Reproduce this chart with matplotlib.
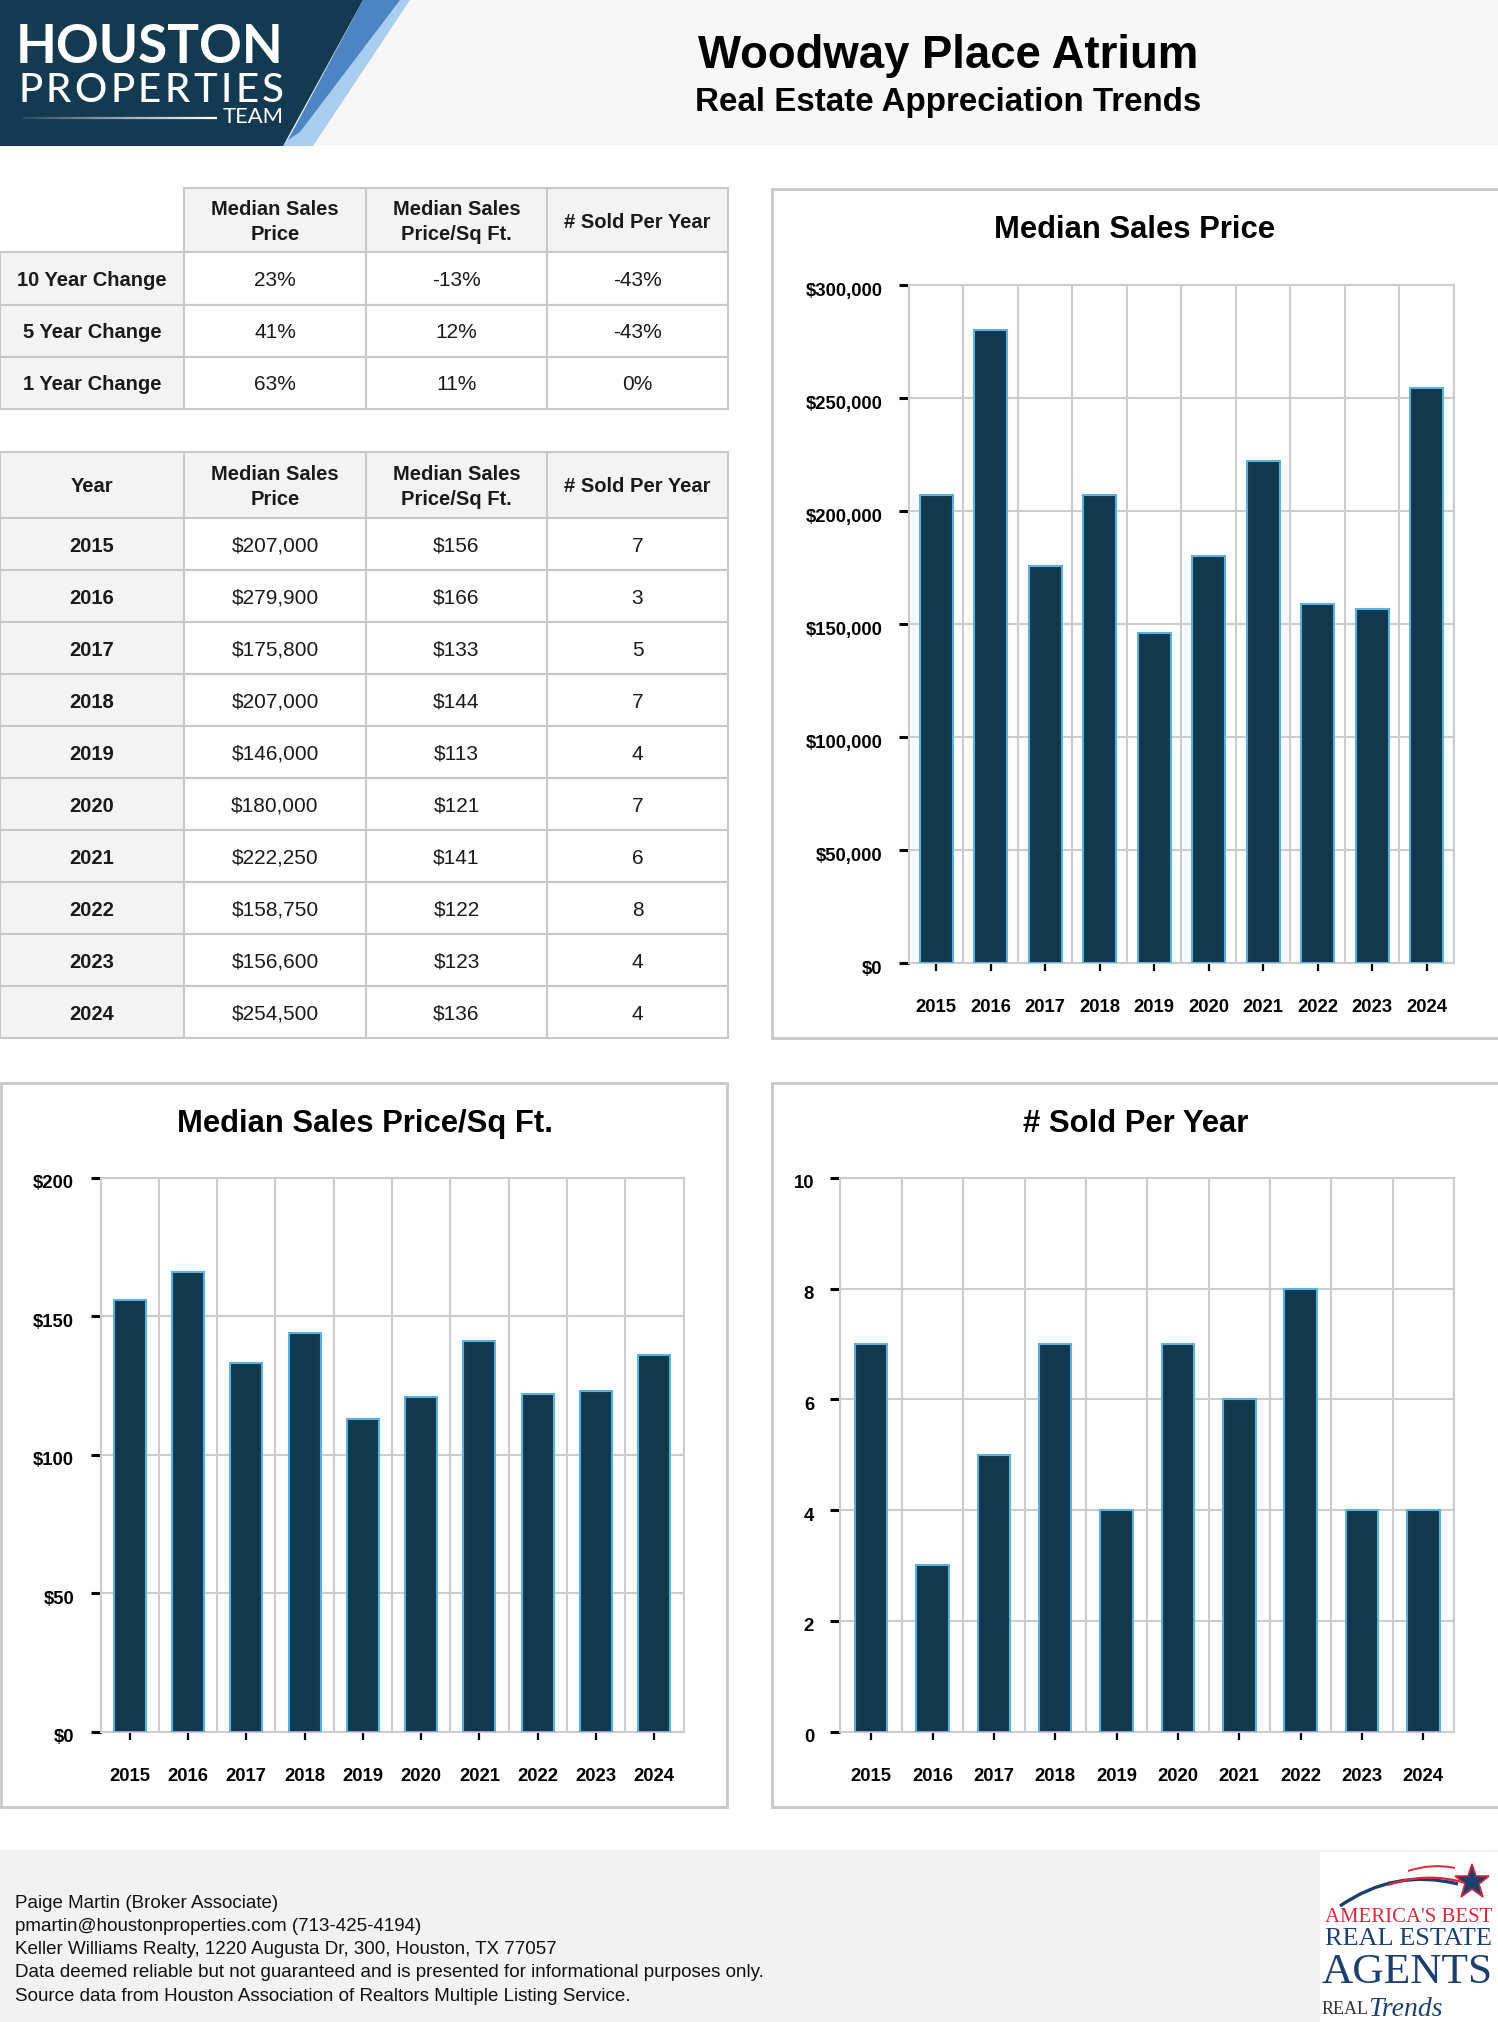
import matplotlib
matplotlib.use('Agg')
import matplotlib.pyplot as plt
from matplotlib.patches import Rectangle, Polygon, PathPatch
from matplotlib.path import Path
from matplotlib.collections import LineCollection
from matplotlib.transforms import ScaledTranslation
import numpy as np

plt.rcParams['font.family'] = ['Liberation Sans', 'DejaVu Sans']

# ---------------- data ----------------
years = [2015, 2016, 2017, 2018, 2019, 2020, 2021, 2022, 2023, 2024]
median_price = [207000, 279900, 175800, 207000, 146000, 180000, 222250, 158750, 156600, 254500]
price_per_sqft = [156, 166, 133, 144, 113, 121, 141, 122, 123, 136]
sold_per_year = [7, 3, 5, 7, 4, 7, 6, 8, 4, 4]

change_labels = ['10 Year Change', '5 Year Change', '1 Year Change']
change_price = ['23%', '41%', '63%']
change_sqft = ['-13%', '12%', '11%']
change_sold = ['-43%', '-43%', '0%']

col_headers = ['Median Sales\nPrice', 'Median Sales\nPrice/Sq Ft.', '# Sold Per Year']

price_ticks = [0, 50000, 100000, 150000, 200000, 250000, 300000]
sqft_ticks = [0, 50, 100, 150, 200]
sold_ticks = [0, 2, 4, 6, 8, 10]

title = 'Woodway Place Atrium'
subtitle = 'Real Estate Appreciation Trends'
footer_lines = [
    'Paige Martin (Broker Associate)',
    'pmartin@houstonproperties.com (713-425-4194)',
    'Keller Williams Realty, 1220 Augusta Dr, 300, Houston, TX 77057',
    'Data deemed reliable but not guaranteed and is presented for informational purposes only.',
    'Source data from Houston Association of Realtors Multiple Listing Service.',
]

# ---------------- style ----------------
W, H, DPI = 1498, 2022, 100
BAR = '#12384e'
EDGE = '#5bb1dd'
GRID = '#cccccc'
BORDER = '#c8c8c8'
HDR_FILL = '#f3f3f3'
TXT = '#1a1a1a'
NAVY = '#143a52'

fig = plt.figure(figsize=(W / DPI, H / DPI), dpi=DPI)
fig.patch.set_facecolor('white')
page = fig.add_axes([0, 0, 1, 1])
page.set_xlim(0, W)
page.set_ylim(H, 0)
page.axis('off')
renderer = fig.canvas.get_renderer()


def fit_text(x, y, s, target_w, size0=20, **kw):
    t = page.text(x, y, s, fontsize=size0, **kw)
    w = t.get_window_extent(renderer).width
    t.set_fontsize(size0 * target_w / w)
    return t


def spaced_text(x0, x1, y, s, size, **kw):
    ts = [page.text(0, y, ch, fontsize=size, ha='left', va='baseline', **kw) for ch in s]
    ws = [t.get_window_extent(renderer).width for t in ts]
    gap = (x1 - x0 - sum(ws)) / (len(s) - 1)
    x = x0
    for t, w in zip(ts, ws):
        t.set_x(x)
        x += w + gap


# ---------------- header ----------------
page.add_patch(Rectangle((0, 0), W, 146, facecolor='#f7f7f7', edgecolor='none'))
page.add_patch(Polygon([(378, 0), (410, 0), (313, 146), (283, 146)], closed=True,
                       facecolor='#a9cdef', edgecolor='none'))
page.add_patch(Polygon([(363, 0), (400, 0), (300, 132), (288, 140)], closed=True,
                       facecolor='#4d84c4', edgecolor='none'))
page.add_patch(Polygon([(0, 0), (363, 0), (283, 146), (0, 146)], closed=True,
                       facecolor=NAVY, edgecolor='none'))
fit_text(16, 63, 'HOUSTON', 268, size0=40, ha='left', va='baseline', color='white',
         family=['Lato', 'DejaVu Sans'], fontweight='bold')
spaced_text(18, 284, 102, 'PROPERTIES', 29, color='white', family=['Lato', 'DejaVu Sans'],
            fontweight='medium')
fit_text(284, 123, 'TEAM', 61, size0=15, ha='right', va='baseline', color='white',
         family=['Lato', 'DejaVu Sans'])
xs_line = np.linspace(23, 217, 60)
segs = [[(xs_line[i], 118), (xs_line[i + 1], 118)] for i in range(len(xs_line) - 1)]
alphas = np.linspace(0.1, 1.0, len(segs))
page.add_collection(LineCollection(segs, colors=[(1, 1, 1, a) for a in alphas], linewidths=1.6))

page.text(948, 56, title, ha='center', va='center', fontsize=32.8, fontweight='bold', color='black')
page.text(948, 103, subtitle, ha='center', va='center', fontsize=23.9, fontweight='bold', color='black')

# ---------------- tables ----------------
COLS = [0, 184, 366, 547, 728]


def cell(x0, y0, x1, y1, fc, text=None, bold=False, size=15):
    page.add_patch(Rectangle((x0, y0), x1 - x0, y1 - y0, facecolor=fc,
                             edgecolor=BORDER, linewidth=1.5))
    if text is not None:
        page.text((x0 + x1) / 2, (y0 + y1) / 2 + 2, text, ha='center', va='center',
                  fontsize=size, fontweight='bold' if bold else 'normal', color=TXT,
                  linespacing=1.45)


# table 1
t1_rows = [188, 252, 305, 357, 409]
for j, hdr in enumerate(col_headers):
    cell(COLS[j + 1], t1_rows[0], COLS[j + 2], t1_rows[1], HDR_FILL, hdr, bold=True, size=14.5)
for i, lab in enumerate(change_labels):
    y0, y1 = t1_rows[i + 1], t1_rows[i + 2]
    cell(COLS[0], y0, COLS[1], y1, HDR_FILL, lab, bold=True, size=14.5)
    for j, vals in enumerate([change_price, change_sqft, change_sold]):
        cell(COLS[j + 1], y0, COLS[j + 2], y1, 'white', vals[i], size=15)

# table 2
t2_top, t2_hdr, t2_bot = 452, 518, 1038
rh = (t2_bot - t2_hdr) / len(years)
cell(COLS[0], t2_top, COLS[1], t2_hdr, HDR_FILL, 'Year', bold=True, size=14.5)
for j, hdr in enumerate(col_headers):
    cell(COLS[j + 1], t2_top, COLS[j + 2], t2_hdr, HDR_FILL, hdr, bold=True, size=14.5)
for i, yr in enumerate(years):
    y0 = t2_hdr + i * rh
    y1 = y0 + rh
    cell(COLS[0], y0, COLS[1], y1, HDR_FILL, str(yr), bold=True, size=14.5)
    cell(COLS[1], y0, COLS[2], y1, 'white', f'${median_price[i]:,}', size=15)
    cell(COLS[2], y0, COLS[3], y1, 'white', f'${price_per_sqft[i]}', size=15)
    cell(COLS[3], y0, COLS[4], y1, 'white', f'{sold_per_year[i]}', size=15)

# ---------------- chart panels ----------------
page.add_patch(Rectangle((772, 189), 800, 849, facecolor='white', edgecolor=BORDER, linewidth=2))
page.add_patch(Rectangle((1, 1083), 726, 724, facecolor='white', edgecolor=BORDER, linewidth=2))
page.add_patch(Rectangle((772, 1083), 800, 724, facecolor='white', edgecolor=BORDER, linewidth=2))

page.text(1135, 230, 'Median Sales Price', ha='center', va='center', fontsize=22.3,
          fontweight='bold', color='black')
page.text(365, 1124, 'Median Sales Price/Sq Ft.', ha='center', va='center', fontsize=22.3,
          fontweight='bold', color='black')
page.text(1136, 1124, '# Sold Per Year', ha='center', va='center', fontsize=22.3,
          fontweight='bold', color='black')


def chart(rect, values, ticks, fmt, width):
    x0, y0, x1, y1 = rect
    ax = fig.add_axes([x0 / W, 1 - y1 / H, (x1 - x0) / W, (y1 - y0) / H])
    xs = np.arange(len(years))
    ax.bar(xs, values, width=width, color=BAR, edgecolor=EDGE, linewidth=1.5, zorder=3)
    ax.set_xlim(-0.5, len(years) - 0.5)
    ax.set_ylim(ticks[0], ticks[-1])
    ax.set_yticks(ticks)
    ax.set_yticklabels([fmt(t) for t in ticks])
    ax.set_xticks(xs)
    ax.set_xticklabels([str(y) for y in years])
    ax.set_xticks(np.arange(-0.5, len(years)), minor=True)
    ax.grid(True, which='minor', axis='x', color=GRID, linewidth=1.5)
    ax.grid(True, which='major', axis='y', color=GRID, linewidth=1.5)
    ax.grid(False, which='major', axis='x')
    ax.tick_params(axis='x', which='minor', length=0)
    ax.tick_params(axis='x', which='major', length=6, width=1.6, color='black', pad=20,
                   labelsize=13.3, labelcolor='black')
    ax.tick_params(axis='y', length=7.5, width=2.2, color='black', pad=11.5,
                   labelsize=13.3, labelcolor='black')
    off = ScaledTranslation(0, -4 / DPI, fig.dpi_scale_trans)
    for lab in ax.get_yticklabels():
        lab.set_fontweight('bold')
        lab.set_transform(lab.get_transform() + off)
    for lab in ax.get_xticklabels():
        lab.set_fontweight('bold')
    for s in ax.spines.values():
        s.set_color(GRID)
        s.set_linewidth(1.5)
    ax.set_axisbelow(True)
    ax.set_facecolor('white')
    return ax


chart((909, 285, 1454, 963), median_price, price_ticks, lambda t: f'${t:,}', 0.6)
chart((100.5, 1178, 683.5, 1731.5), price_per_sqft, sqft_ticks, lambda t: f'${t}', 0.55)
chart((840.5, 1178, 1454, 1731.5), sold_per_year, sold_ticks, lambda t: f'{t}', 0.53)

# ---------------- footer ----------------
page.add_patch(Rectangle((0, 1850), W, H - 1850, facecolor='#f2f2f2', edgecolor='none'))
for k, line in enumerate(footer_lines):
    page.text(15, 1903 + k * 23.3, line, ha='left', va='center', fontsize=13.5, color='#111111')

# footer logo
page.add_patch(Rectangle((1320, 1852), 178, 170, facecolor='white', edgecolor='none'))
RED = '#d8283c'
LNAVY = '#1d3f6e'
sw = Path([(1340, 1906), (1395, 1868), (1458, 1884)], [Path.MOVETO, Path.CURVE3, Path.CURVE3])
page.add_patch(PathPatch(sw, facecolor='none', edgecolor=LNAVY, linewidth=2.4))
r1 = Path([(1388, 1885), (1425, 1872), (1462, 1882)], [Path.MOVETO, Path.CURVE3, Path.CURVE3])
page.add_patch(PathPatch(r1, facecolor='none', edgecolor=RED, linewidth=1.6))
r2 = Path([(1408, 1871), (1432, 1863), (1455, 1868)], [Path.MOVETO, Path.CURVE3, Path.CURVE3])
page.add_patch(PathPatch(r2, facecolor='none', edgecolor=RED, linewidth=1.4))
page.plot([1472], [1882], marker='*', markersize=26, markerfacecolor=LNAVY,
          markeredgecolor=RED, markeredgewidth=1.2)
fit_text(1325, 1922, "AMERICA'S BEST", 168, size0=14, ha='left', va='baseline', color=RED,
         family=['Liberation Serif', 'DejaVu Serif'])
fit_text(1325, 1945, 'REAL ESTATE', 168, size0=14, ha='left', va='baseline', color=LNAVY,
         family=['Liberation Serif', 'DejaVu Serif'])
fit_text(1322, 1983, 'AGENTS', 171, size0=28, ha='left', va='baseline', color=LNAVY,
         family=['Liberation Serif', 'DejaVu Serif'])
page.text(1322, 2014, 'REAL', fontsize=13, ha='left', va='baseline', color='#333333',
          family=['Liberation Serif', 'DejaVu Serif'])
page.text(1368, 2016, 'Trends', fontsize=20, ha='left', va='baseline', color=LNAVY,
          family=['Liberation Serif', 'DejaVu Serif'], fontstyle='italic')

fig.savefig('out.png', dpi=DPI)
